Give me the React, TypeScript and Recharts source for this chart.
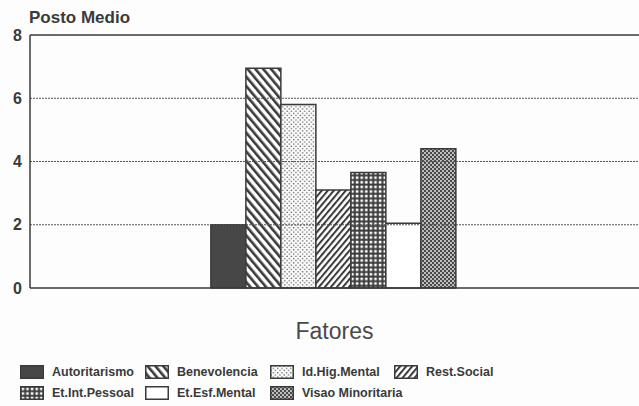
import { Bar, BarChart, ReferenceLine, XAxis, YAxis } from 'recharts';

// Posto médio por fator — single category, seven patterned bars side by side.

const factorNames = [
  'Autoritarismo',
  'Benevolencia',
  'Id.Hig.Mental',
  'Rest.Social',
  'Et.Int.Pessoal',
  'Et.Esf.Mental',
  'Visao Minoritaria',
];
const factorKeys = ['aut', 'ben', 'hig', 'soc', 'pes', 'esf', 'vis'];
const postoMedio = [2.0, 6.95, 5.8, 3.1, 3.65, 2.05, 4.4];
const gridValues = [2, 4, 6];
const yTicks = [0, 2, 4, 6, 8];

const INK = '#3a3a3a';
const FONT = '"Liberation Sans", Arial, sans-serif';

// fill per factor (patterns live in the hidden <svg> below)
const fills: Record<string, string> = {
  aut: '#474747',
  ben: 'url(#patBen)',
  hig: 'url(#patHig)',
  soc: 'url(#patSoc)',
  pes: 'url(#patPes)',
  esf: '#ffffff',
  vis: 'url(#patVis)',
};

const row: Record<string, string | number> = { factor: '' };
factorKeys.forEach((k, i) => {
  row[k] = postoMedio[i];
});
const chartData = [row];

// legend grid: 4 columns on the first row, 3 on the second
const legendCols = [20, 145, 270, 394];
const legendRows = [365, 386];

function PatternDefs() {
  return (
    <svg width={0} height={0} style={{ position: 'absolute' }}>
      <defs>
        <pattern id="patBen" width={6} height={6} patternUnits="userSpaceOnUse" patternTransform="rotate(-40)">
          <rect width={6} height={6} fill="#fff" />
          <rect width={2.6} height={6} fill={INK} />
        </pattern>
        <pattern id="patSoc" width={4.6} height={4.6} patternUnits="userSpaceOnUse" patternTransform="rotate(40)">
          <rect width={4.6} height={4.6} fill="#fff" />
          <rect width={2} height={4.6} fill={INK} />
        </pattern>
        <pattern id="patHig" width={4.4} height={4.4} patternUnits="userSpaceOnUse">
          <rect width={4.4} height={4.4} fill="#fdfdfd" />
          <circle cx={1.1} cy={1.1} r={0.75} fill="#555" />
          <circle cx={3.3} cy={3.3} r={0.75} fill="#555" />
        </pattern>
        <pattern id="patPes" width={4.6} height={4.6} patternUnits="userSpaceOnUse">
          <rect width={4.6} height={4.6} fill={INK} />
          <rect x={1.6} y={1.6} width={2.6} height={2.6} fill="#fff" />
        </pattern>
        <pattern id="patVis" width={4} height={4} patternUnits="userSpaceOnUse">
          <rect width={4} height={4} fill="#4a4a4a" />
          <circle cx={1} cy={1} r={0.95} fill="#eee" />
          <circle cx={3} cy={3} r={0.95} fill="#eee" />
        </pattern>
      </defs>
    </svg>
  );
}

export default function App() {
  return (
    <div
      style={{
        position: 'absolute',
        left: 0,
        top: 0,
        width: 639,
        height: 406,
        background: '#fdfdfd',
        fontFamily: FONT,
        overflow: 'hidden',
      }}
    >
      <PatternDefs />
      <div
        style={{
          position: 'absolute',
          left: 29,
          top: 8,
          fontSize: 17,
          fontWeight: 700,
          color: INK,
        }}
      >
        Posto Medio
      </div>
      <BarChart
        width={639}
        height={345}
        data={chartData}
        margin={{ top: 35, right: 0, bottom: 0, left: 0 }}
        barCategoryGap="29.7%"
        barGap={0}
      >
        <XAxis
          dataKey="factor"
          tick={false}
          tickLine={false}
          height={57}
          axisLine={{ stroke: INK, strokeWidth: 1.5 }}
          label={{
            value: 'Fatores',
            position: 'insideBottom',
            offset: 6,
            fill: '#4a4a4a',
            fontSize: 23,
            fontFamily: FONT,
          }}
        />
        <YAxis
          domain={[0, 8]}
          ticks={yTicks}
          width={30}
          tickLine={false}
          axisLine={{ stroke: INK, strokeWidth: 1.5 }}
          tick={{ fill: INK, fontSize: 16, fontWeight: 700, fontFamily: FONT }}
        />
        {gridValues.map(v => (
          <ReferenceLine key={v} y={v} stroke="#555" strokeDasharray="2 1" strokeWidth={1} />
        ))}
        <ReferenceLine y={8} stroke={INK} strokeWidth={1.5} />
        {factorKeys.map((k, i) => (
          <Bar
            key={k}
            dataKey={k}
            name={factorNames[i]}
            fill={fills[k]}
            stroke={INK}
            strokeWidth={1.5}
            isAnimationActive={false}
          />
        ))}
      </BarChart>
      {factorKeys.map((k, i) => {
        const r = i < 4 ? 0 : 1;
        const c = i < 4 ? i : i - 4;
        return (
          <div
            key={k}
            style={{
              position: 'absolute',
              left: legendCols[c],
              top: legendRows[r],
              display: 'flex',
              alignItems: 'center',
              fontSize: 12.5,
              fontWeight: 700,
              color: INK,
              whiteSpace: 'nowrap',
            }}
          >
            <svg width={24} height={14}>
              <rect x={0.75} y={0.75} width={22.5} height={12.5} fill={fills[k]} stroke={INK} strokeWidth={1.5} />
            </svg>
            <span style={{ marginLeft: 8 }}>{factorNames[i]}</span>
          </div>
        );
      })}
    </div>
  );
}
